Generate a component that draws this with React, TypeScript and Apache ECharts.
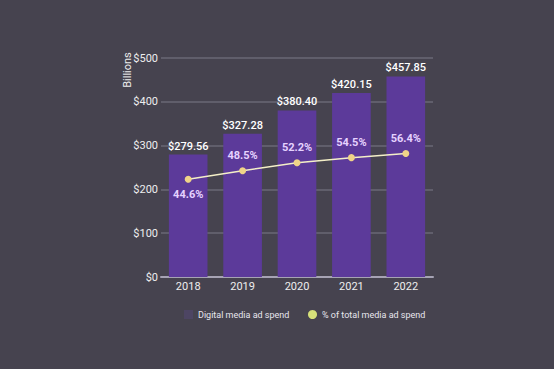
import React, { useEffect, useRef } from "react";
import * as echarts from "echarts";

const years = ["2018", "2019", "2020", "2021", "2022"];
const spend = [279.56, 327.28, 380.4, 420.15, 457.85];
const share = [44.6, 48.5, 52.2, 54.5, 56.4];
const yTicks = [0, 100, 200, 300, 400, 500];

const FONT = "Roboto, sans-serif";

export default function App() {
  const ref = useRef<HTMLDivElement>(null);
  useEffect(() => {
    const chart = echarts.init(ref.current!, undefined, { renderer: "svg" });
    chart.setOption({
      animation: false,
      backgroundColor: "#46434f",
      textStyle: { fontFamily: FONT },
      grid: { left: 161, right: 121, top: 58, bottom: 92 },
      legend: [
        {
          top: 305,
          left: 179,
          itemWidth: 9,
          itemHeight: 9,
          itemGap: 6,
          textStyle: { color: "#e8e6ee", fontSize: 9, fontFamily: FONT },
          data: [{ name: "Digital media ad spend", icon: "rect", itemStyle: { color: "#4d4563" } }],
        },
        {
          top: 305,
          left: 303,
          itemWidth: 9,
          itemHeight: 9,
          textStyle: { color: "#e8e6ee", fontSize: 9, fontFamily: FONT },
          data: [{ name: "% of total media ad spend", icon: "circle", itemStyle: { color: "#d6e07a" } }],
        },
      ],
      graphic: [
        {
          type: "text",
          x: 127,
          y: 70,
          rotation: Math.PI / 2,
          style: {
            text: "Billions",
            fill: "#eeeeee",
            fontSize: 11,
            fontFamily: FONT,
            align: "center",
            verticalAlign: "middle",
          },
        },
      ],
      xAxis: {
        type: "category",
        data: years,
        axisLine: { lineStyle: { color: "#a6a3b4", width: 2 } },
        axisTick: { show: false },
        axisLabel: { color: "#eeeeee", fontSize: 11, margin: 4, fontFamily: FONT },
      },
      yAxis: [
        {
          type: "value",
          min: 0,
          max: 500,
          interval: 100,
          axisLine: { show: false },
          axisTick: { show: false },
          splitLine: { lineStyle: { color: "#6a6774", width: 1.5 } },
          axisLabel: {
            color: "#eeeeee",
            fontSize: 11,
            margin: 3,
            fontFamily: FONT,
            formatter: (v: number) => (yTicks.includes(v) ? "$" + v : ""),
          },
        },
        { type: "value", min: 0, max: 100, show: false },
      ],
      series: [
        {
          name: "Digital media ad spend",
          type: "bar",
          data: spend,
          barWidth: "71%",
          itemStyle: { color: "#5c3a9a" },
          label: {
            show: true,
            position: "top",
            distance: 3,
            color: "#ffffff",
            fontSize: 11,
            fontWeight: 500,
            fontFamily: FONT,
            formatter: (p: any) => "$" + p.value.toFixed(2),
          },
        },
        {
          name: "% of total media ad spend",
          type: "line",
          yAxisIndex: 1,
          data: share.map((v, i) => ({
            value: v,
            label: { position: i === 0 ? "bottom" : "top" },
          })),
          symbol: "circle",
          symbolSize: 7,
          lineStyle: { color: "#f4efc8", width: 1.5 },
          itemStyle: { color: "#f0d488" },
          label: {
            show: true,
            distance: 6,
            color: "#e6d2ff",
            fontSize: 11,
            fontWeight: "bold",
            fontFamily: FONT,
            formatter: (p: any) => p.value.toFixed(1) + "%",
          },
        },
      ],
    });
    return () => chart.dispose();
  }, []);
  return <div ref={ref} style={{ width: 554, height: 369, position: "absolute", left: 0, top: 0 }} />;
}
